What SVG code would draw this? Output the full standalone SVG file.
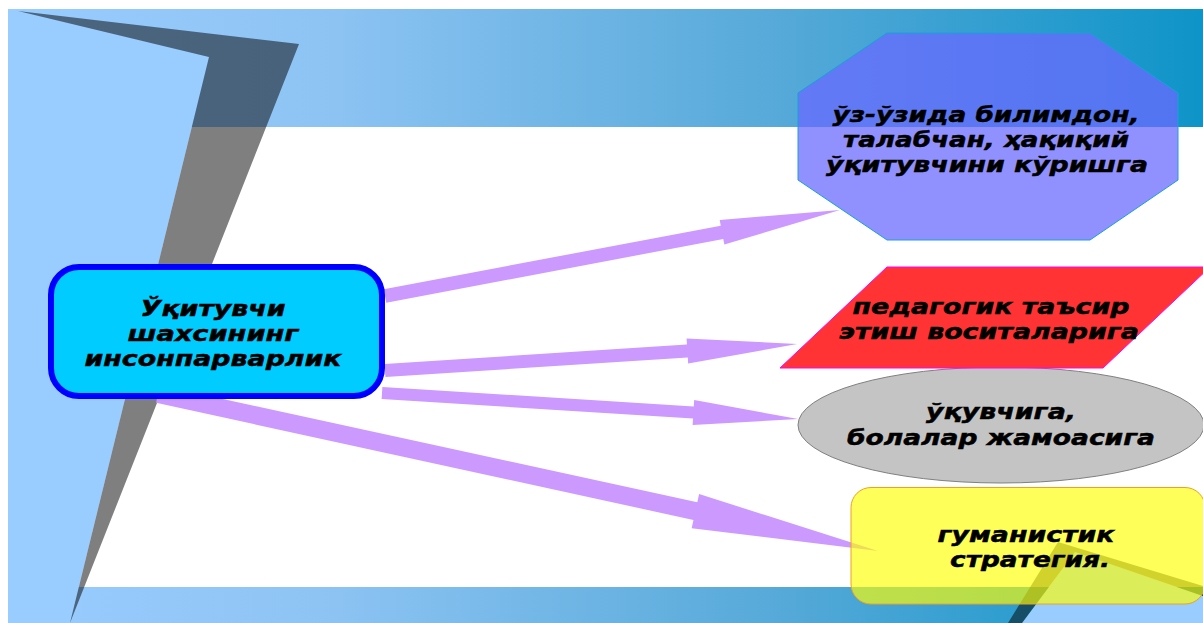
<svg xmlns="http://www.w3.org/2000/svg" width="1203" height="623" viewBox="0 0 1203 623">
<defs>
<linearGradient id="band" gradientUnits="userSpaceOnUse" x1="8" y1="0" x2="1203" y2="0">
<stop offset="0" stop-color="#99ccff"/>
<stop offset="0.26" stop-color="#8ec4f4"/>
<stop offset="0.65" stop-color="#55a9d8"/>
<stop offset="1" stop-color="#0e94c8"/>
</linearGradient>
<style>
.t{font-family:"DejaVu Sans","Verdana",sans-serif;font-weight:bold;font-style:italic;font-size:21.5px;fill:#000;stroke:#000;stroke-width:0.5;text-anchor:middle}
.arr{fill:#cc99ff}
.shade{fill:#000;fill-opacity:0.5}
.lb{fill:#99ccff}
</style>
</defs>
<rect x="0" y="0" width="1203" height="623" fill="#ffffff"/>
<g id="background">
<rect x="8" y="9" width="1195" height="118" fill="url(#band)"/>
<rect x="8" y="587" width="1195" height="36" fill="url(#band)"/>
<polygon class="lb" points="8,9 18,11 209,57 70,623 8,623"/>
<polygon class="shade" points="18,11 299,44 70,623 209,57"/>
<polygon class="lb" points="1075,552 1203,596 1203,623 1022,623"/>
<polygon class="shade" points="1058,542 1203,586 1203,596 1075,552 1022,623 1008,623"/>
</g>
<g id="connectors">
<path class="arr" transform="translate(385,296) rotate(-10.70)" d="M0,-6.8 L343,-6.8 L343,-12.5 L463,0 L343,12.5 L343,6.8 L0,6.8 Z"/>
<path class="arr" transform="translate(385,370.5) rotate(-3.68)" d="M0,-6.5 L303,-6.5 L303,-12.5 L413,0 L303,12.5 L303,6.5 L0,6.5 Z"/>
<path class="arr" transform="translate(382,393) rotate(3.58)" d="M0,-6 L312,-6 L312,-12.5 L417,0 L312,12.5 L312,6 L0,6 Z"/>
<path class="arr" transform="translate(158,394) rotate(12.30)" d="M0,-9 L550,-9 L550,-17.5 L737,0 L550,17.5 L550,9 L0,9 Z"/>
</g>
<g id="node-center">
<rect x="51" y="267" width="331" height="129" rx="28" ry="28" fill="#00ccff" stroke="#0000ff" stroke-width="6"/>
<text class="t" x="213" y="316" textLength="145" lengthAdjust="spacingAndGlyphs">Ўқитувчи</text>
<text class="t" x="213" y="341" textLength="171" lengthAdjust="spacingAndGlyphs">шахсининг</text>
<text class="t" x="213" y="366" textLength="257" lengthAdjust="spacingAndGlyphs">инсонпарварлик</text>
</g>
<g id="node-octagon">
<polygon points="887,33 1090,33 1178,93 1178,180 1090,240 887,240 798,180 798,93" fill="#6969ff" fill-opacity="0.74" stroke="#1aa0d8" stroke-width="1"/>
<text class="t" x="986" y="122" textLength="307" lengthAdjust="spacingAndGlyphs">ўз-ўзида билимдон,</text>
<text class="t" x="986" y="147" textLength="286" lengthAdjust="spacingAndGlyphs">талабчан, ҳақиқий</text>
<text class="t" x="987" y="172" textLength="322" lengthAdjust="spacingAndGlyphs">ўқитувчини кўришга</text>
</g>
<g id="node-ellipse">
<ellipse cx="1001" cy="425" rx="203" ry="58" fill="#c4c4c4" stroke="#808080" stroke-width="1"/>
<text class="t" x="1001" y="419" textLength="150" lengthAdjust="spacingAndGlyphs">ўқувчига,</text>
<text class="t" x="1001" y="445" textLength="308" lengthAdjust="spacingAndGlyphs">болалар жамоасига</text>
</g>
<g id="node-parallelogram">
<polygon points="780,368 887,267 1210,267 1103,368" fill="#ff3333" stroke="#ff00ff" stroke-width="1"/>
<text class="t" x="991" y="314" textLength="277" lengthAdjust="spacingAndGlyphs">педагогик таъсир</text>
<text class="t" x="989" y="339" textLength="300" lengthAdjust="spacingAndGlyphs">этиш воситаларига</text>
</g>
<g id="node-yellow">
<rect x="851" y="487.5" width="354" height="116.5" rx="20" ry="20" fill="#ffff00" fill-opacity="0.65" stroke="#f0a020" stroke-width="1"/>
<text class="t" x="1026" y="542" textLength="177" lengthAdjust="spacingAndGlyphs">гуманистик</text>
<text class="t" x="1030" y="567" textLength="160" lengthAdjust="spacingAndGlyphs">стратегия.</text>
</g>
</svg>
